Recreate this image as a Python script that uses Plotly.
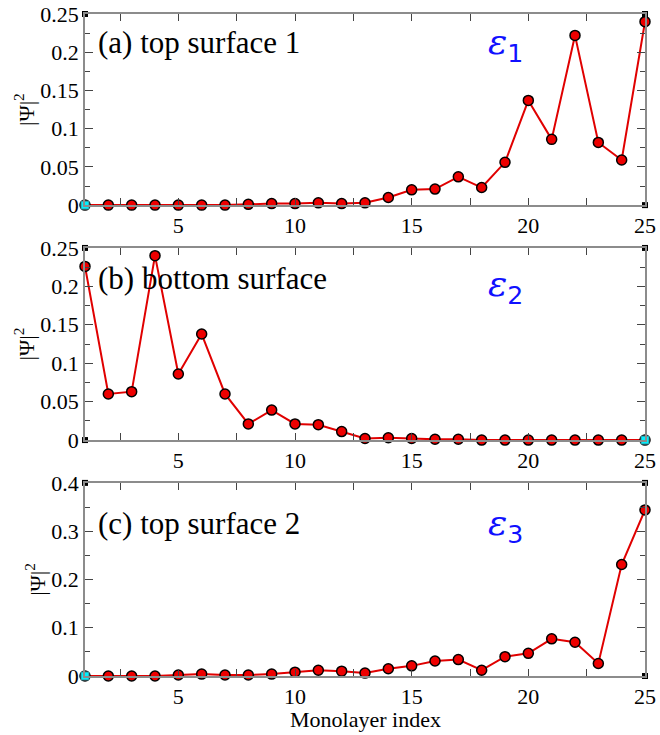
import plotly.graph_objects as go

layers = list(range(1, 26))

psi_a = [0.000, 0.000, 0.000, 0.000, 0.000, 0.000, 0.000, 0.001, 0.002, 0.002,
         0.003, 0.002, 0.003, 0.010, 0.020, 0.021, 0.037, 0.023, 0.056, 0.137,
         0.086, 0.222, 0.082, 0.059, 0.240]
psi_b = [0.226, 0.060, 0.063, 0.240, 0.086, 0.138, 0.060, 0.021, 0.039, 0.021,
         0.020, 0.011, 0.002, 0.003, 0.002, 0.001, 0.001, 0.000, 0.000, 0.000,
         0.000, 0.000, 0.000, 0.000, 0.000]
psi_c = [0.000, 0.000, 0.000, 0.000, 0.002, 0.004, 0.002, 0.002, 0.004, 0.008,
         0.012, 0.010, 0.006, 0.015, 0.021, 0.031, 0.034, 0.012, 0.040, 0.047,
         0.077, 0.070, 0.026, 0.231, 0.344]

panel_labels = ["(a) top surface 1", "(b) bottom surface", "(c) top surface 2"]
eps_subs = ["1", "2", "3"]
x_title = "Monolayer index"
y_title = "|Ψ|<sup>2</sup>"
y_max = [0.25, 0.25, 0.4]
y_major = [0.05, 0.05, 0.1]
y_minor = [0.025, 0.025, 0.05]
# corner marker (cyan) position per panel
cyan_x = [1, 25, 1]

x_ticks = [5, 10, 15, 20, 25]

series = [psi_a, psi_b, psi_c]
domains = [[0.7113, 1.0], [0.3564, 0.6466], [0.0, 0.2917]]
label_y = [0.85, 0.84, 0.79]
eps_y = [0.84, 0.80, 0.78]

SERIF = "Liberation Serif"
AXC = "#8c8c8c"
FS = 22

fig = go.Figure()
layout = dict(
    width=660, height=735,
    margin=dict(l=85, r=15, t=14, b=59, autoexpand=False),
    paper_bgcolor="white", plot_bgcolor="white",
    showlegend=False,
    font=dict(family=SERIF, size=FS, color="black"),
)
annotations = []
for i, ys in enumerate(series):
    k = "" if i == 0 else str(i + 1)
    xa, ya = "x" + k, "y" + k
    fig.add_trace(go.Scatter(
        x=layers, y=ys, xaxis=xa, yaxis=ya, mode="lines+markers",
        line=dict(color="#e00000", width=2),
        marker=dict(symbol="circle", size=10, color="#ee0000",
                    line=dict(color="black", width=1.5)),
        cliponaxis=False))
    # corner markers (xmgrace-style frame anchors)
    corners_x = [1, 25, 1, 25]
    corners_y = [0, 0, y_max[i], y_max[i]]
    bx = [cx for cx, cy in zip(corners_x, corners_y) if not (cx == cyan_x[i] and cy == 0)]
    by = [cy for cx, cy in zip(corners_x, corners_y) if not (cx == cyan_x[i] and cy == 0)]
    fig.add_trace(go.Scatter(
        x=bx, y=by, xaxis=xa, yaxis=ya, mode="markers",
        marker=dict(symbol="square", size=6, color="black"), cliponaxis=False))
    fig.add_trace(go.Scatter(
        x=[cyan_x[i]], y=[0], xaxis=xa, yaxis=ya, mode="markers",
        marker=dict(symbol="square", size=8, color="#00f0ff",
                    line=dict(color="#3a8890", width=1)), cliponaxis=False))

    layout["xaxis" + k] = dict(
        domain=[0, 1], anchor=ya, range=[1, 25], tickvals=x_ticks,
        ticks="inside", ticklen=7, tickcolor="#444", tickwidth=1,
        showline=True, linecolor=AXC, linewidth=1.5, mirror="ticks",
        showgrid=False, zeroline=False, ticklabeloverflow="allow",
        minor=dict(tickvals=[2.5, 7.5, 12.5, 17.5, 22.5], ticks="inside",
                   ticklen=7, tickcolor="#444"),
        tickfont=dict(family=SERIF, size=FS),
    )
    layout["yaxis" + k] = dict(
        domain=domains[i], anchor=xa, range=[0, y_max[i]],
        tick0=0, dtick=y_major[i],
        ticks="inside", ticklen=8, tickcolor="#444", tickwidth=1,
        showline=True, linecolor=AXC, linewidth=1.5, mirror="ticks",
        showgrid=False, zeroline=False, ticklabeloverflow="allow",
        minor=dict(dtick=y_minor[i], ticks="inside", ticklen=5, tickcolor="#444"),
        tickfont=dict(family=SERIF, size=FS),
        title=dict(text=y_title, font=dict(family=SERIF, size=FS), standoff=0),
    )
    annotations.append(dict(
        x=0.02, y=label_y[i], xref=xa + " domain", yref=ya + " domain",
        text=panel_labels[i], showarrow=False, xanchor="left", yanchor="middle",
        font=dict(family=SERIF, size=31, color="black")))
    annotations.append(dict(
        x=0.75, y=eps_y[i], xref=xa + " domain", yref=ya + " domain",
        text="<span style=\"font-family:'DejaVu Serif'\"><i>ε</i></span><sub>"
             + eps_subs[i] + "</sub>",
        showarrow=False, xanchor="center", yanchor="middle",
        font=dict(family="DejaVu Sans", size=36, color="#1010ff")))

annotations.append(dict(
    x=0.5, y=-0.0453, xref="paper", yref="paper", text=x_title,
    showarrow=False, xanchor="center", yanchor="top", borderpad=0,
    font=dict(family=SERIF, size=22, color="black")))

layout["annotations"] = annotations
fig.update_layout(**layout)
fig.write_html("out.html")
